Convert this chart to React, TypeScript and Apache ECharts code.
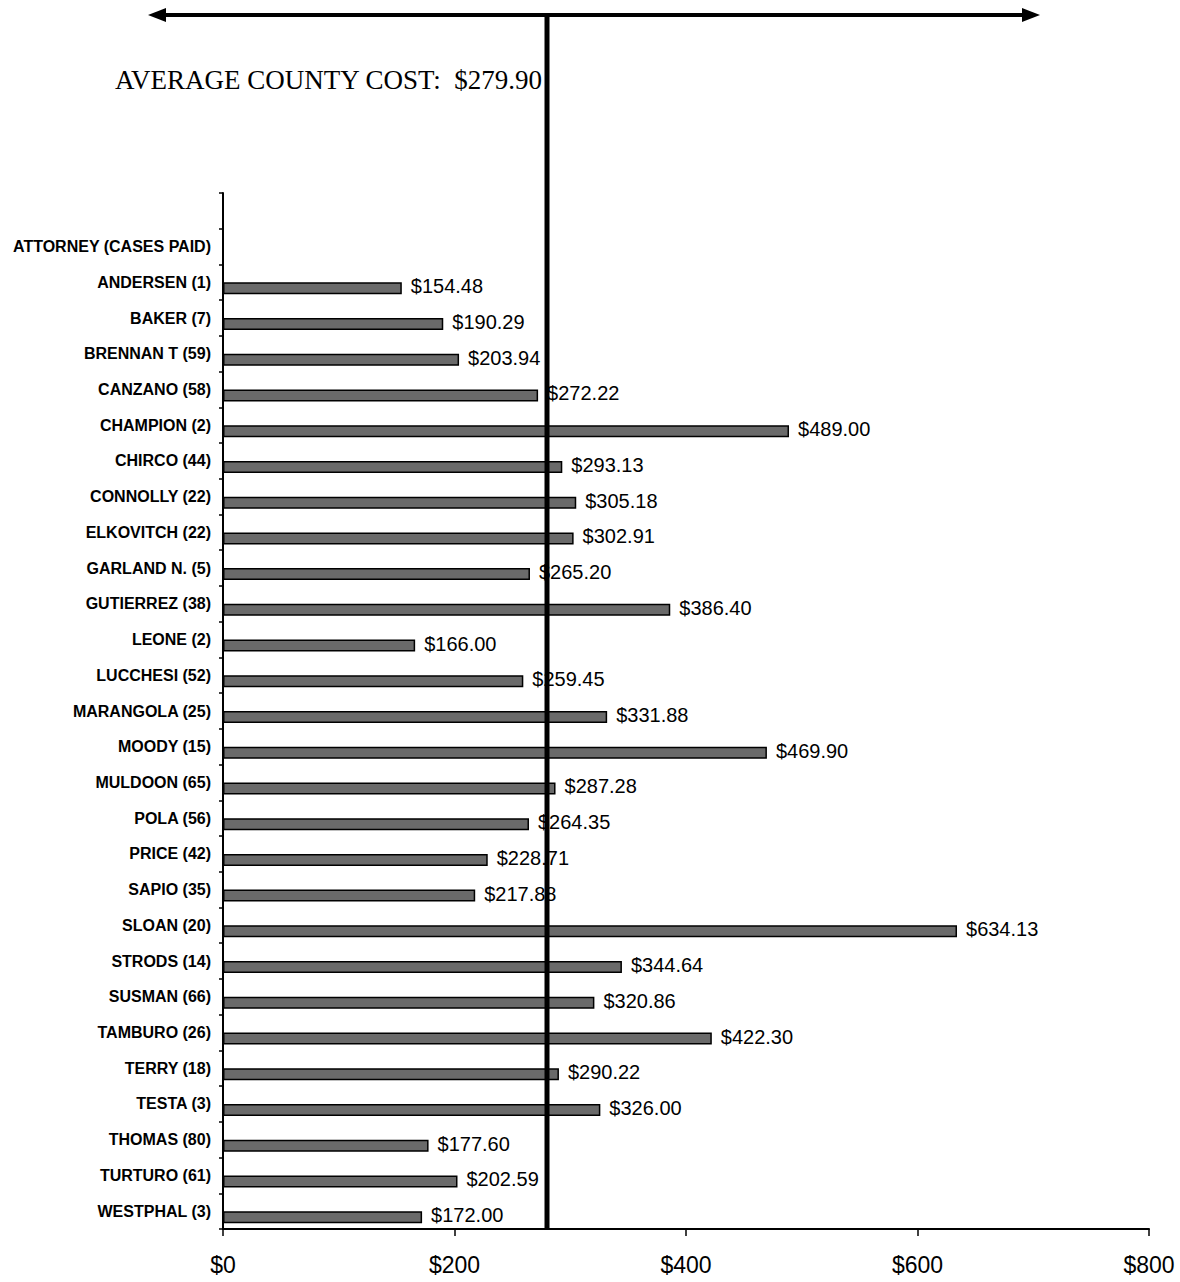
import React, { useEffect, useRef } from "react";
import * as echarts from "echarts";

const HEADER = "ATTORNEY (CASES PAID)";
const attorneys = [
  "ANDERSEN (1)", "BAKER (7)", "BRENNAN T (59)", "CANZANO (58)", "CHAMPION (2)",
  "CHIRCO (44)", "CONNOLLY (22)", "ELKOVITCH (22)", "GARLAND N. (5)", "GUTIERREZ (38)",
  "LEONE (2)", "LUCCHESI (52)", "MARANGOLA (25)", "MOODY (15)", "MULDOON (65)",
  "POLA (56)", "PRICE (42)", "SAPIO (35)", "SLOAN (20)", "STRODS (14)",
  "SUSMAN (66)", "TAMBURO (26)", "TERRY (18)", "TESTA (3)", "THOMAS (80)",
  "TURTURO (61)", "WESTPHAL (3)",
];
const costs = [
  154.48, 190.29, 203.94, 272.22, 489.0,
  293.13, 305.18, 302.91, 265.2, 386.4,
  166.0, 259.45, 331.88, 469.9, 287.28,
  264.35, 228.71, 217.88, 634.13, 344.64,
  320.86, 422.3, 290.22, 326.0, 177.6,
  202.59, 172.0,
];
const averageCost = 279.9;
const averageTitle = "AVERAGE COUNTY COST:  $279.90";
const xTicks = [0, 200, 400, 600, 800];

export default function App() {
  const ref = useRef<HTMLDivElement>(null);
  useEffect(() => {
    if (!ref.current) return;
    const chart = echarts.init(ref.current, null, { renderer: "svg" });
    const categories = ["", HEADER, ...attorneys];
    const values = [null, null, ...costs];
    const spacer = categories.map(() => null);
    const sans = "Liberation Sans, Arial, sans-serif";
    chart.setOption({
      animation: false,
      grid: { left: 223, right: 31, top: 193, bottom: 53, containLabel: false },
      xAxis: {
        type: "value",
        min: xTicks[0],
        max: xTicks[xTicks.length - 1],
        interval: 200,
        axisLine: { show: true, lineStyle: { color: "#000", width: 2 } },
        axisTick: { show: true, length: 7, inside: false, lineStyle: { color: "#000", width: 1.5 } },
        splitLine: { show: false },
        axisLabel: {
          formatter: (v: number) => "$" + v,
          color: "#000",
          fontSize: 23,
          fontFamily: sans,
          margin: 24,
        },
      },
      yAxis: {
        type: "category",
        inverse: true,
        data: categories,
        axisLine: { show: true, lineStyle: { color: "#000", width: 2 } },
        axisTick: { show: true, length: 4, lineStyle: { color: "#000", width: 1.5 } },
        axisLabel: {
          color: "#000",
          fontSize: 16,
          fontWeight: "bold",
          fontFamily: sans,
          margin: 12,
          padding: [0, 0, 8, 0],
        },
      },
      series: [
        {
          type: "bar",
          data: spacer,
          barWidth: 12,
          barGap: "0%",
          silent: true,
          itemStyle: { color: "transparent" },
        },
        {
          type: "bar",
          data: values,
          barWidth: 12,
          barGap: "0%",
          itemStyle: { color: "#6a6a6a", borderColor: "#000", borderWidth: 1.5 },
          label: {
            show: true,
            position: "right",
            distance: 9,
            formatter: (p: any) => "$" + Number(p.value).toFixed(2),
            color: "#000",
            fontSize: 20,
            fontFamily: sans,
            offset: [0, -2],
          },
        },
      ],
    });
    const ax = Math.round(chart.convertToPixel({ xAxisIndex: 0 }, averageCost) as number);
    const axisY = Math.round(chart.convertToPixel({ yAxisIndex: 0 }, 0) as number);
    const arrowY = 15;
    const x1 = 148;
    const x2 = 1040;
    chart.setOption({
      graphic: [
        { type: "line", shape: { x1: ax, y1: arrowY, x2: ax, y2: 1229 }, style: { stroke: "#000", lineWidth: 5 }, z: 100 },
        { type: "line", shape: { x1: x1 + 10, y1: arrowY, x2: x2 - 10, y2: arrowY }, style: { stroke: "#000", lineWidth: 4 } },
        { type: "polygon", shape: { points: [[x1, arrowY], [x1 + 18, arrowY - 7], [x1 + 18, arrowY + 7]] }, style: { fill: "#000" } },
        { type: "polygon", shape: { points: [[x2, arrowY], [x2 - 18, arrowY - 7], [x2 - 18, arrowY + 7]] }, style: { fill: "#000" } },
        {
          type: "text",
          x: ax - 5,
          y: 80,
          style: {
            text: averageTitle,
            fill: "#000",
            fontSize: 27,
            fontFamily: "Liberation Serif, Times New Roman, serif",
            align: "right",
            verticalAlign: "middle",
          },
        },
      ],
    });
    void axisY;
    return () => chart.dispose();
  }, []);
  return <div ref={ref} style={{ position: "absolute", left: 0, top: 0, width: 1180, height: 1282, background: "#fff" }} />;
}
